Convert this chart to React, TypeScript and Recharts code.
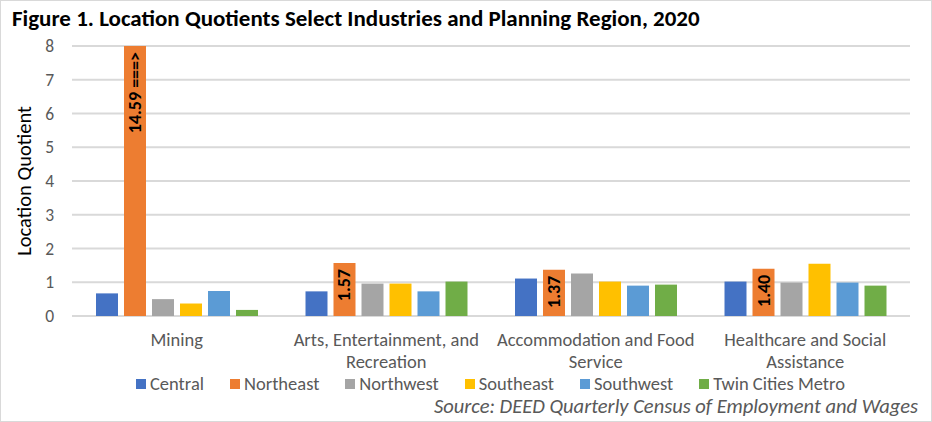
import React from "react";
import { BarChart, Bar, XAxis, YAxis, CartesianGrid, LabelList } from "recharts";

const industries = [
  "Mining",
  "Arts, Entertainment, and Recreation",
  "Accommodation and Food Service",
  "Healthcare and Social Assistance",
];
const industryTickLines = [
  ["Mining"],
  ["Arts, Entertainment, and", "Recreation"],
  ["Accommodation and Food", "Service"],
  ["Healthcare and Social", "Assistance"],
];

const central = [0.67, 0.73, 1.11, 1.02];
const northeast = [14.59, 1.57, 1.37, 1.4];
const northwest = [0.5, 0.96, 1.26, 0.99];
const southeast = [0.37, 0.96, 1.02, 1.55];
const southwest = [0.74, 0.73, 0.9, 0.99];
const twinCitiesMetro = [0.18, 1.02, 0.93, 0.9];

const yTicks = [0, 1, 2, 3, 4, 5, 6, 7, 8];
const Y_MAX = 8;

const series = [
  { key: "central", name: "Central", color: "#4472C4", values: central },
  { key: "northeast", name: "Northeast", color: "#ED7D31", values: northeast },
  { key: "northwest", name: "Northwest", color: "#A5A5A5", values: northwest },
  { key: "southeast", name: "Southeast", color: "#FFC000", values: southeast },
  { key: "southwest", name: "Southwest", color: "#5B9BD5", values: southwest },
  { key: "twin", name: "Twin Cities Metro", color: "#70AD47", values: twinCitiesMetro },
];

const data = industries.map((industry, i) => {
  const row: Record<string, any> = { industry, idx: i };
  series.forEach((s) => {
    row[s.key] = s.values[i];
  });
  return row;
});

const FONT = "Carlito, Lato, 'Open Sans', sans-serif";
const PLOT_TOP = 46;

const IndustryTick = (props: any) => {
  const { x, y, payload } = props;
  const lines = industryTickLines[payload.index] || [payload.value];
  return (
    <g>
      {lines.map((line: string, i: number) => (
        <text
          key={i}
          x={x}
          y={y + 22 + i * 22}
          textAnchor="middle"
          fill="#595959"
          fontSize={18.5}
          fontFamily={FONT}
        >
          {line}
        </text>
      ))}
    </g>
  );
};

const NortheastLabel = (props: any) => {
  const { x, y, width, value } = props;
  const top = Math.max(Number(y), PLOT_TOP) + 6;
  const cx = Number(x) + Number(width) / 2;
  const v = Number(value);
  const text = v > Y_MAX ? `${v.toFixed(2)} ===>` : v.toFixed(2);
  return (
    <text
      x={cx}
      y={top}
      transform={`rotate(-90 ${cx} ${top})`}
      textAnchor="end"
      dominantBaseline="central"
      fill="#000"
      fontSize={18}
      fontWeight="bold"
      fontFamily={FONT}
    >
      {text}
    </text>
  );
};

export default function App() {
  return (
    <div
      style={{
        position: "absolute",
        left: 0,
        top: 0,
        width: 932,
        height: 422,
        background: "#fff",
        border: "1px solid #d9d9d9",
        boxSizing: "border-box",
        fontFamily: FONT,
        overflow: "hidden",
      }}
    >
      <div
        style={{
          position: "absolute",
          left: 11,
          top: 3,
          fontSize: 23,
          fontWeight: "bold",
          color: "#000",
          whiteSpace: "nowrap",
        }}
      >
        Figure 1. Location Quotients Select Industries and Planning Region, 2020
      </div>
      <div style={{ position: "absolute", left: -1, top: -1 }}>
        <BarChart
          width={932}
          height={422}
          data={data}
          margin={{ top: PLOT_TOP, right: 22, bottom: 46, left: 0 }}
          barSize={22}
          barGap={6}
        >
          <CartesianGrid vertical={false} stroke="#d9d9d9" strokeWidth={2} />
          <XAxis
            dataKey="industry"
            axisLine={false}
            tickLine={false}
            height={60}
            interval={0}
            tick={<IndustryTick />}
          />
          <YAxis
            domain={[0, Y_MAX]}
            ticks={yTicks}
            allowDataOverflow
            axisLine={false}
            tickLine={false}
            tickSize={0}
            tickMargin={18}
            width={72}
            tick={{ fill: "#595959", fontSize: 17.5, fontFamily: FONT }}
            label={{
              value: "Location Quotient",
              angle: -90,
              position: "insideLeft",
              dx: 19,
              style: { textAnchor: "middle", fill: "#000", fontSize: 20.5, fontFamily: FONT },
            }}
          />
          {series.map((s) => (
            <Bar key={s.key} dataKey={s.key} name={s.name} fill={s.color} isAnimationActive={false}>
              {s.key === "northeast" && (
                <LabelList dataKey={s.key} content={<NortheastLabel />} />
              )}
            </Bar>
          ))}
        </BarChart>
      </div>
      <div
        style={{
          position: "absolute",
          left: 135,
          top: 371,
          display: "flex",
          alignItems: "center",
          fontSize: 18.5,
          color: "#595959",
          whiteSpace: "nowrap",
        }}
      >
        {series.map((s) => (
          <div key={s.key} style={{ display: "flex", alignItems: "center", marginRight: 26 }}>
            <span
              style={{ width: 10, height: 10, background: s.color, display: "inline-block", marginRight: 4 }}
            />
            {s.name}
          </div>
        ))}
      </div>
      <div
        style={{
          position: "absolute",
          right: 13,
          top: 392,
          fontSize: 20.5,
          fontStyle: "italic",
          color: "#595959",
          whiteSpace: "nowrap",
        }}
      >
        Source: DEED Quarterly Census of Employment and Wages
      </div>
    </div>
  );
}
